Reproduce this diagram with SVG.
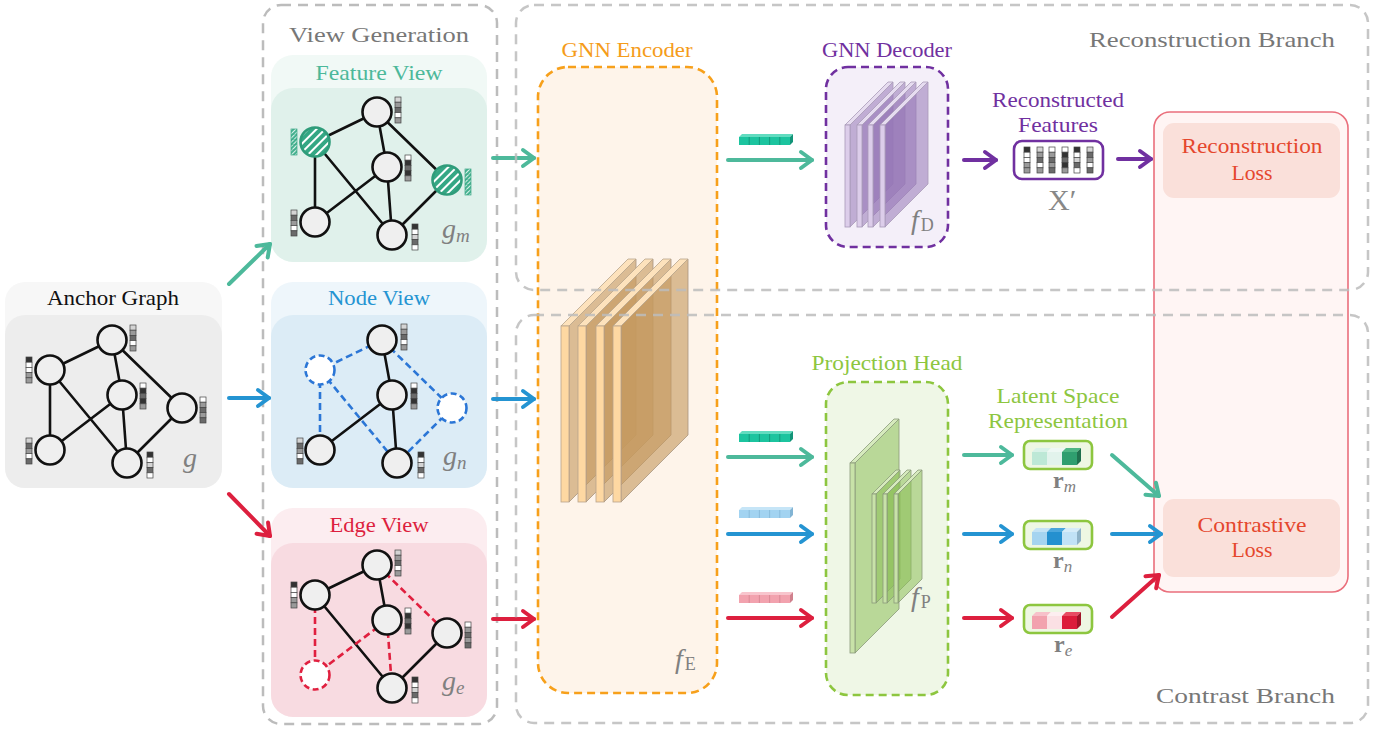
<svg xmlns="http://www.w3.org/2000/svg" width="1387" height="731" viewBox="0 0 1387 731">
<style>
text{font-family:"Liberation Serif","DejaVu Serif",serif}
.ttl{text-anchor:middle;font-size:21px}
.big{font-size:22px;fill:#777}
.math{font-style:italic;fill:#808080;font-size:28px}
.sub{font-style:normal;font-size:18px}
.edge{stroke:#111;stroke-width:2.6;fill:none}
.nd{fill:#efefef;stroke:#111;stroke-width:2.6}
.cell{stroke:#444;stroke-width:0.7}
.c0{fill:#fff}.c1{fill:#d4d4d4}.c2{fill:#9a9a9a}.c3{fill:#6a6a6a}.c4{fill:#333}
.gbox{fill:none;stroke:#bcbcbc;stroke-width:2.5;stroke-dasharray:10 7}
.arr{fill:none;stroke-width:4;stroke-linecap:round}
.teal{stroke:#4db99b}.blue{stroke:#2494d2}.red{stroke:#dd1f3e}.purp{stroke:#7030a0}
.sheetE .f{fill:#fed8a2;stroke:#b8a48c;stroke-width:0.8}
.sheetE .t{fill:#fde2bc;stroke:#b8a48c;stroke-width:0.8}
.sheetE .s{fill:#c59a60;fill-opacity:0.62;stroke:#a89680;stroke-width:0.8}
.sheetD .f{fill:#dccdea;stroke:#a89ab8;stroke-width:0.8}
.sheetD .t{fill:#e6dcf0;stroke:#a89ab8;stroke-width:0.8}
.sheetD .s{fill:#9676b6;fill-opacity:0.55;stroke:#a89ab8;stroke-width:0.8}
.sheetP .f{fill:#c8e2a8;stroke:#8a9a7a;stroke-width:0.8}
.sheetP .t{fill:#d6eabd;stroke:#8a9a7a;stroke-width:0.8}
.sheetP .s{fill:#8cc058;fill-opacity:0.55;stroke:#8a9a7a;stroke-width:0.8}
</style>
<defs>
  <pattern id="hatch" patternUnits="userSpaceOnUse" width="6" height="6" patternTransform="rotate(45)">
    <rect width="6" height="6" fill="#35a784"/>
    <rect width="2" height="6" fill="#ffffff"/>
  </pattern>
  <pattern id="hatchS" patternUnits="userSpaceOnUse" width="3" height="3" patternTransform="rotate(45)">
    <rect width="3" height="3" fill="#45b290"/>
    <rect width="1" height="3" fill="#d8f0e8"/>
  </pattern>
  <!-- small feature vectors, five cells each -->
  <g id="va" class="cell"><rect class="c1" y="0" width="6" height="5.2"/><rect class="c2" y="5.2" width="6" height="5.2"/><rect class="c3" y="10.4" width="6" height="5.2"/><rect class="c0" y="15.6" width="6" height="5.2"/><rect class="c2" y="20.8" width="6" height="5.2"/></g>
  <g id="vb" class="cell"><rect class="c4" y="0" width="6" height="5.2"/><rect class="c0" y="5.2" width="6" height="5.2"/><rect class="c0" y="10.4" width="6" height="5.2"/><rect class="c2" y="15.6" width="6" height="5.2"/><rect class="c2" y="20.8" width="6" height="5.2"/></g>
  <g id="vc" class="cell"><rect class="c0" y="0" width="6" height="5.2"/><rect class="c4" y="5.2" width="6" height="5.2"/><rect class="c3" y="10.4" width="6" height="5.2"/><rect class="c4" y="15.6" width="6" height="5.2"/><rect class="c2" y="20.8" width="6" height="5.2"/></g>
  <g id="vd" class="cell"><rect class="c0" y="0" width="6" height="5.2"/><rect class="c2" y="5.2" width="6" height="5.2"/><rect class="c3" y="10.4" width="6" height="5.2"/><rect class="c2" y="15.6" width="6" height="5.2"/><rect class="c3" y="20.8" width="6" height="5.2"/></g>
  <g id="ve" class="cell"><rect class="c1" y="0" width="6" height="5.2"/><rect class="c3" y="5.2" width="6" height="5.2"/><rect class="c2" y="10.4" width="6" height="5.2"/><rect class="c0" y="15.6" width="6" height="5.2"/><rect class="c3" y="20.8" width="6" height="5.2"/></g>
  <g id="vf" class="cell"><rect class="c4" y="0" width="6" height="5.2"/><rect class="c0" y="5.2" width="6" height="5.2"/><rect class="c1" y="10.4" width="6" height="5.2"/><rect class="c3" y="15.6" width="6" height="5.2"/><rect class="c0" y="20.8" width="6" height="5.2"/></g>
  <g id="vh"><rect width="6" height="26" fill="url(#hatchS)" stroke="#3aa585" stroke-width="0.7"/><path d="M0,5.2h6M0,10.4h6M0,15.6h6M0,20.8h6" stroke="#3aa585" stroke-width="0.5"/></g>
  <!-- embedding bars -->
  <g id="embT"><polygon points="0,3 3,0 54,0 51,3" fill="#62dcc0"/><rect y="3" width="51" height="8" fill="#1cc49f"/><polygon points="51,3 54,0 54,8 51,11" fill="#129478"/><path d="M10.2,3v8M20.4,3v8M30.6,3v8M40.8,3v8" stroke="#0e8a6e" stroke-width="0.7"/></g>
  <g id="embB"><polygon points="0,3 3,0 54,0 51,3" fill="#c6e5f7"/><rect y="3" width="51" height="8" fill="#a2d3f1"/><polygon points="51,3 54,0 54,8 51,11" fill="#82b4d4"/><path d="M10.2,3v8M20.4,3v8M30.6,3v8M40.8,3v8" stroke="#7fb3d3" stroke-width="0.7"/></g>
  <g id="embR"><polygon points="0,3 3,0 54,0 51,3" fill="#f8c5cd"/><rect y="3" width="51" height="8" fill="#f2a2ae"/><polygon points="51,3 54,0 54,8 51,11" fill="#d0808d"/><path d="M10.2,3v8M20.4,3v8M30.6,3v8M40.8,3v8" stroke="#d0808d" stroke-width="0.7"/></g>
  <!-- chevron arrowheads -->
  <marker id="mT" viewBox="-15 -11 18 22" refX="0" refY="0" markerWidth="18" markerHeight="22" markerUnits="userSpaceOnUse" orient="auto"><path d="M-11,-8L0,0L-11,8" fill="none" stroke="#4db99b" stroke-width="4" stroke-linecap="round" stroke-linejoin="round"/></marker>
  <marker id="mB" viewBox="-15 -11 18 22" refX="0" refY="0" markerWidth="18" markerHeight="22" markerUnits="userSpaceOnUse" orient="auto"><path d="M-11,-8L0,0L-11,8" fill="none" stroke="#2494d2" stroke-width="4" stroke-linecap="round" stroke-linejoin="round"/></marker>
  <marker id="mR" viewBox="-15 -11 18 22" refX="0" refY="0" markerWidth="18" markerHeight="22" markerUnits="userSpaceOnUse" orient="auto"><path d="M-11,-8L0,0L-11,8" fill="none" stroke="#dd1f3e" stroke-width="4" stroke-linecap="round" stroke-linejoin="round"/></marker>
  <marker id="mP" viewBox="-15 -11 18 22" refX="0" refY="0" markerWidth="18" markerHeight="22" markerUnits="userSpaceOnUse" orient="auto"><path d="M-11,-8L0,0L-11,8" fill="none" stroke="#7030a0" stroke-width="4" stroke-linecap="round" stroke-linejoin="round"/></marker>
</defs>

<rect width="1387" height="731" fill="#ffffff"/>

<!-- view generation frame -->
<g id="view-generation">
  <rect class="gbox" x="263" y="5" width="234" height="719" rx="18"/>
  <text class="big" x="379" y="42" text-anchor="middle" textLength="180" lengthAdjust="spacingAndGlyphs">View Generation</text>
</g>

<!-- anchor graph -->
<g id="anchor-graph">
  <rect x="5" y="282" width="217" height="206" rx="20" fill="#f7f7f7"/>
  <rect x="5" y="315" width="217" height="173" rx="20" fill="#ededed"/>
  <text class="ttl" x="113" y="305" fill="#111" textLength="132" lengthAdjust="spacingAndGlyphs">Anchor Graph</text>
  <path class="edge" d="M112,340L50,370M112,340L122,395M112,340L182,408M50,370L50,450M50,370L127,463M122,395L50,450M122,395L127,463M182,408L127,463"/>
  <circle class="nd" cx="112" cy="340" r="14.5"/>
  <circle class="nd" cx="50" cy="370" r="14.5"/>
  <circle class="nd" cx="122" cy="395" r="14.5"/>
  <circle class="nd" cx="182" cy="408" r="14.5"/>
  <circle class="nd" cx="50" cy="450" r="14.5"/>
  <circle class="nd" cx="127" cy="463" r="14.5"/>
  <use href="#va" x="130" y="325"/>
  <use href="#vb" x="26" y="357"/>
  <use href="#vc" x="140" y="383"/>
  <use href="#vd" x="200" y="397"/>
  <use href="#ve" x="26" y="438"/>
  <use href="#vf" x="147" y="452"/>
  <text class="math" x="183" y="467">g</text>
</g>

<!-- feature masking view -->
<g id="feature-view">
  <rect x="271" y="55" width="216" height="207" rx="22" fill="#f1f9f6"/>
  <rect x="271" y="88" width="216" height="174" rx="22" fill="#e0f1eb"/>
  <text class="ttl" x="379" y="80" fill="#4cb89a" textLength="127" lengthAdjust="spacingAndGlyphs">Feature View</text>
  <g transform="translate(265,-228)">
    <path class="edge" d="M112,340L50,370M112,340L122,395M112,340L182,408M50,370L50,450M50,370L127,463M122,395L50,450M122,395L127,463M182,408L127,463"/>
    <circle class="nd" cx="112" cy="340" r="14.5"/>
    <circle cx="50" cy="370" r="14.5" fill="url(#hatch)" stroke="#2f9c7a" stroke-width="2.6"/>
    <circle class="nd" cx="122" cy="395" r="14.5"/>
    <circle cx="182" cy="408" r="14.5" fill="url(#hatch)" stroke="#2f9c7a" stroke-width="2.6"/>
    <circle class="nd" cx="50" cy="450" r="14.5"/>
    <circle class="nd" cx="127" cy="463" r="14.5"/>
    <use href="#va" x="130" y="325"/>
    <use href="#vh" x="26" y="357"/>
    <use href="#vc" x="140" y="383"/>
    <use href="#vh" x="200" y="397"/>
    <use href="#ve" x="26" y="438"/>
    <use href="#vf" x="147" y="452"/>
  </g>
  <text class="math" x="442" y="238">g<tspan font-size="19" dy="4">m</tspan></text>
</g>

<!-- node dropping view -->
<g id="node-view">
  <rect x="271" y="282" width="216" height="206" rx="22" fill="#eef6fb"/>
  <rect x="271" y="315" width="216" height="173" rx="22" fill="#dcecf6"/>
  <text class="ttl" x="379" y="305" fill="#2494d2" textLength="102" lengthAdjust="spacingAndGlyphs">Node View</text>
  <g transform="translate(270,0)">
    <path class="edge" d="M112,340L122,395M122,395L50,450M122,395L127,463"/>
    <path d="M112,340L50,370M112,340L182,408M50,370L50,450M50,370L127,463M182,408L127,463" fill="none" stroke="#2b76d6" stroke-width="2.6" stroke-dasharray="7 4"/>
    <circle class="nd" cx="112" cy="340" r="14.5"/>
    <circle cx="50" cy="370" r="14.5" fill="#fff" stroke="#2b76d6" stroke-width="2.6" stroke-dasharray="6 3.5"/>
    <circle class="nd" cx="122" cy="395" r="14.5"/>
    <circle cx="182" cy="408" r="14.5" fill="#fff" stroke="#2b76d6" stroke-width="2.6" stroke-dasharray="6 3.5"/>
    <circle class="nd" cx="50" cy="450" r="14.5"/>
    <circle class="nd" cx="127" cy="463" r="14.5"/>
    <use href="#va" x="131" y="324"/>
    <use href="#vc" x="141" y="383"/>
    <use href="#ve" x="27" y="438"/>
    <use href="#vf" x="148" y="452"/>
  </g>
  <text class="math" x="443" y="465">g<tspan font-size="19" dy="4">n</tspan></text>
</g>

<!-- edge dropping view -->
<g id="edge-view">
  <rect x="271" y="508" width="216" height="209" rx="22" fill="#fcedf0"/>
  <rect x="271" y="543" width="216" height="174" rx="22" fill="#f8dbe1"/>
  <text class="ttl" x="379" y="532" fill="#dd1f3e" textLength="99" lengthAdjust="spacingAndGlyphs">Edge View</text>
  <g transform="translate(265,225)">
    <path class="edge" d="M112,340L50,370M112,340L122,395M50,370L127,463M182,408L127,463"/>
    <path d="M112,340L182,408M50,370L50,450M122,395L50,450M122,395L127,463" fill="none" stroke="#e0203f" stroke-width="2.6" stroke-dasharray="7 4"/>
    <circle class="nd" cx="112" cy="340" r="14.5"/>
    <circle class="nd" cx="50" cy="370" r="14.5"/>
    <circle class="nd" cx="122" cy="395" r="14.5"/>
    <circle class="nd" cx="182" cy="408" r="14.5"/>
    <circle cx="50" cy="450" r="14.5" fill="#fff" stroke="#e0203f" stroke-width="2.6" stroke-dasharray="6 3.5"/>
    <circle class="nd" cx="127" cy="463" r="14.5"/>
    <use href="#va" x="130" y="325"/>
    <use href="#vb" x="26" y="357"/>
    <use href="#vc" x="140" y="383"/>
    <use href="#vd" x="200" y="397"/>
    <use href="#vf" x="147" y="452"/>
  </g>
  <text class="math" x="442" y="690">g<tspan font-size="19" dy="4">e</tspan></text>
</g>

<!-- shared GNN encoder -->
<g id="gnn-encoder">
  <rect x="538" y="67" width="179" height="626" rx="30" fill="#fef4ea" stroke="#f7a01b" stroke-width="2.6" stroke-dasharray="8 5"/>
  <text class="ttl" x="627" y="57" fill="#f59c1a" font-size="22" textLength="131" lengthAdjust="spacingAndGlyphs">GNN Encoder</text>
  <g class="sheetE">
    <polygon class="s" points="569,326 636,259 636,435 569,502"/><polygon class="t" points="561,326 628,259 636,259 569,326"/><rect class="f" x="561" y="326" width="8" height="176"/>
    <polygon class="s" points="586,326 653,259 653,435 586,502"/><polygon class="t" points="578,326 645,259 653,259 586,326"/><rect class="f" x="578" y="326" width="8" height="176"/>
    <polygon class="s" points="604,326 671,259 671,435 604,502"/><polygon class="t" points="596,326 663,259 671,259 604,326"/><rect class="f" x="596" y="326" width="8" height="176"/>
    <polygon class="s" points="621,326 688,259 688,435 621,502"/><polygon class="t" points="613,326 680,259 688,259 621,326"/><rect class="f" x="613" y="326" width="8" height="176"/>
  </g>
  <text class="math" x="675" y="668">f<tspan class="sub" dx="2" dy="2">E</tspan></text>
</g>

<!-- GNN decoder -->
<g id="gnn-decoder">
  <rect x="826" y="67" width="122" height="180" rx="22" fill="#f4eff9" stroke="#7030a0" stroke-width="2.6" stroke-dasharray="8 5"/>
  <text class="ttl" x="887" y="57" fill="#7030a0" font-size="22" textLength="130" lengthAdjust="spacingAndGlyphs">GNN Decoder</text>
  <g class="sheetD">
    <polygon class="s" points="850,125 893,82 893,184 850,227"/><polygon class="t" points="845,125 888,82 893,82 850,125"/><rect class="f" x="845" y="125" width="5" height="102"/>
    <polygon class="s" points="862,125 905,82 905,184 862,227"/><polygon class="t" points="857,125 900,82 905,82 862,125"/><rect class="f" x="857" y="125" width="5" height="102"/>
    <polygon class="s" points="873,125 916,82 916,184 873,227"/><polygon class="t" points="868,125 911,82 916,82 873,125"/><rect class="f" x="868" y="125" width="5" height="102"/>
    <polygon class="s" points="885,125 928,82 928,184 885,227"/><polygon class="t" points="880,125 923,82 928,82 885,125"/><rect class="f" x="880" y="125" width="5" height="102"/>
  </g>
  <text class="math" x="911" y="229">f<tspan class="sub" dx="2" dy="2">D</tspan></text>
</g>

<!-- reconstructed features -->
<g id="reconstructed-features">
  <text class="ttl" x="1058" y="107" fill="#7030a0" textLength="132" lengthAdjust="spacingAndGlyphs">Reconstructed</text>
  <text class="ttl" x="1058" y="132" fill="#7030a0" textLength="80" lengthAdjust="spacingAndGlyphs">Features</text>
  <rect x="1014" y="141" width="89" height="38" rx="8" fill="#fff" stroke="#7030a0" stroke-width="2.6"/>
  <use href="#vb" x="1024" y="147"/>
  <use href="#va" x="1037" y="147"/>
  <use href="#vd" x="1049" y="147"/>
  <use href="#vc" x="1062" y="147"/>
  <use href="#vf" x="1074" y="147"/>
  <use href="#ve" x="1087" y="147"/>
  <text x="1048" y="210" font-size="30" fill="#888">X′</text>
</g>

<!-- projection head -->
<g id="projection-head">
  <rect x="826" y="382" width="122" height="313" rx="22" fill="#eff7e6" stroke="#8dc63f" stroke-width="2.6" stroke-dasharray="8 5"/>
  <text class="ttl" x="887" y="370" fill="#8dc63f" font-size="22" textLength="151" lengthAdjust="spacingAndGlyphs">Projection Head</text>
  <g class="sheetP">
    <polygon class="s" points="855,463 899,419 899,609 855,653"/><polygon class="t" points="850,463 894,419 899,419 855,463"/><rect class="f" x="850" y="463" width="5" height="190"/>
    <polygon class="s" points="876,494 900,470 900,579 876,603"/><polygon class="t" points="872,494 896,470 900,470 876,494"/><rect class="f" x="872" y="494" width="4" height="109"/>
    <polygon class="s" points="887,494 911,470 911,579 887,603"/><polygon class="t" points="883,494 907,470 911,470 887,494"/><rect class="f" x="883" y="494" width="4" height="109"/>
    <polygon class="s" points="898,494 922,470 922,579 898,603"/><polygon class="t" points="894,494 918,470 922,470 898,494"/><rect class="f" x="894" y="494" width="4" height="109"/>
  </g>
  <text class="math" x="911" y="606">f<tspan class="sub" dx="2" dy="2">P</tspan></text>
</g>

<!-- latent space representations -->
<g id="latent-label">
  <text class="ttl" x="1058" y="403" fill="#8dc63f" textLength="123" lengthAdjust="spacingAndGlyphs">Latent Space</text>
  <text class="ttl" x="1058" y="428" fill="#8dc63f" textLength="140" lengthAdjust="spacingAndGlyphs">Representation</text>
</g>
<g id="latent-rm">
  <rect x="1024" y="441" width="68" height="28" rx="6" fill="#eef7e3" stroke="#8dc63f" stroke-width="2.6"/>
  <polygon points="1032,452 1036,448 1051,448 1047,452" fill="#d9f2e8"/><rect x="1032" y="452" width="15" height="13" fill="#bde8d6"/>
  <polygon points="1047,452 1051,448 1066,448 1062,452" fill="#eef8f4"/><rect x="1047" y="452" width="15" height="13" fill="#e2f3ec"/>
  <polygon points="1062,452 1066,448 1081,448 1077,452" fill="#4fb685"/><rect x="1062" y="452" width="15" height="13" fill="#2f9e6f"/>
  <polygon points="1077,452 1081,448 1081,461 1077,465" fill="#20704e"/>
  <text x="1053" y="488" font-size="24" font-weight="bold" fill="#808080">r<tspan font-weight="normal" font-style="italic" font-size="17" dy="4">m</tspan></text>
</g>
<g id="latent-rn">
  <rect x="1024" y="521" width="68" height="28" rx="6" fill="#eef7e3" stroke="#8dc63f" stroke-width="2.6"/>
  <polygon points="1032,532 1036,528 1051,528 1047,532" fill="#c4e3f5"/><rect x="1032" y="532" width="15" height="13" fill="#a5d4f0"/>
  <polygon points="1047,532 1051,528 1066,528 1062,532" fill="#4aa6dc"/><rect x="1047" y="532" width="15" height="13" fill="#2490cf"/>
  <polygon points="1062,532 1066,528 1081,528 1077,532" fill="#d6ecf9"/><rect x="1062" y="532" width="15" height="13" fill="#c1e2f6"/>
  <polygon points="1077,532 1081,528 1081,541 1077,545" fill="#8fb3c8"/>
  <text x="1053" y="568" font-size="24" font-weight="bold" fill="#808080">r<tspan font-weight="normal" font-style="italic" font-size="17" dy="4">n</tspan></text>
</g>
<g id="latent-re">
  <rect x="1024" y="605" width="68" height="28" rx="6" fill="#eef7e3" stroke="#8dc63f" stroke-width="2.6"/>
  <polygon points="1032,616 1036,612 1051,612 1047,616" fill="#f7c1ca"/><rect x="1032" y="616" width="15" height="13" fill="#f2a2ae"/>
  <polygon points="1047,616 1051,612 1066,612 1062,616" fill="#fdeef0"/><rect x="1047" y="616" width="15" height="13" fill="#fbe0e4"/>
  <polygon points="1062,616 1066,612 1081,612 1077,616" fill="#e84c63"/><rect x="1062" y="616" width="15" height="13" fill="#dc1c3a"/>
  <polygon points="1077,616 1081,612 1081,625 1077,629" fill="#a01428"/>
  <text x="1054" y="652" font-size="24" font-weight="bold" fill="#808080">r<tspan font-weight="normal" font-style="italic" font-size="17" dy="4">e</tspan></text>
</g>

<!-- losses -->
<g id="loss-panel">
  <rect x="1154" y="112" width="194" height="480" rx="16" fill="#fff5f4" stroke="#ea6f7c" stroke-width="1.6"/>
</g>
<g id="reconstruction-loss">
  <rect x="1163" y="123" width="177" height="75" rx="11" fill="#fae0da"/>
  <text class="ttl" x="1252" y="153" fill="#e5472d" font-size="22" textLength="141" lengthAdjust="spacingAndGlyphs">Reconstruction</text>
  <text class="ttl" x="1252" y="180" fill="#e5472d" font-size="22" textLength="41" lengthAdjust="spacingAndGlyphs">Loss</text>
</g>
<g id="contrastive-loss">
  <rect x="1163" y="499" width="177" height="78" rx="11" fill="#fae0da"/>
  <text class="ttl" x="1252" y="532" fill="#e5472d" font-size="22" textLength="109" lengthAdjust="spacingAndGlyphs">Contrastive</text>
  <text class="ttl" x="1252" y="557" fill="#e5472d" font-size="22" textLength="41" lengthAdjust="spacingAndGlyphs">Loss</text>
</g>

<!-- connectors -->
<g id="connectors">
  <path class="arr teal" d="M229,284L270,244" marker-end="url(#mT)"/>
  <path class="arr blue" d="M229,398L269,398" marker-end="url(#mB)"/>
  <path class="arr red" d="M229,494L270,536" marker-end="url(#mR)"/>
  <path class="arr teal" d="M493,158L534,158" marker-end="url(#mT)"/>
  <path class="arr blue" d="M493,399L534,399" marker-end="url(#mB)"/>
  <path class="arr red" d="M493,619L534,619" marker-end="url(#mR)"/>
  <path class="arr teal" d="M728,160L812,160" marker-end="url(#mT)"/>
  <path class="arr purp" d="M964,160L996,160" marker-end="url(#mP)"/>
  <path class="arr purp" d="M1118,159L1151,159" marker-end="url(#mP)"/>
  <path class="arr teal" d="M728,457L812,457" marker-end="url(#mT)"/>
  <path class="arr blue" d="M728,534L812,534" marker-end="url(#mB)"/>
  <path class="arr red" d="M728,618L812,618" marker-end="url(#mR)"/>
  <path class="arr teal" d="M964,455L1012,455" marker-end="url(#mT)"/>
  <path class="arr blue" d="M964,534L1012,534" marker-end="url(#mB)"/>
  <path class="arr red" d="M964,618L1012,618" marker-end="url(#mR)"/>
  <path class="arr teal" d="M1112,455L1159,496" marker-end="url(#mT)"/>
  <path class="arr blue" d="M1112,534L1161,534" marker-end="url(#mB)"/>
  <path class="arr red" d="M1112,617L1159,575" marker-end="url(#mR)"/>
  <use href="#embT" x="739" y="134"/>
  <use href="#embT" x="739" y="431"/>
  <use href="#embB" x="739" y="507"/>
  <use href="#embR" x="739" y="592"/>
</g>

<!-- branch frames, drawn over the shared modules -->
<g id="reconstruction-branch">
  <rect class="gbox" x="516" y="5" width="852" height="285" rx="18" stroke-opacity="0.85"/>
  <text class="big" x="1335" y="47" text-anchor="end" textLength="246" lengthAdjust="spacingAndGlyphs">Reconstruction Branch</text>
</g>
<g id="contrast-branch">
  <rect class="gbox" x="516" y="315" width="852" height="408" rx="18" stroke-opacity="0.85"/>
  <text class="big" x="1335" y="703" text-anchor="end" textLength="179" lengthAdjust="spacingAndGlyphs">Contrast Branch</text>
</g>
</svg>
